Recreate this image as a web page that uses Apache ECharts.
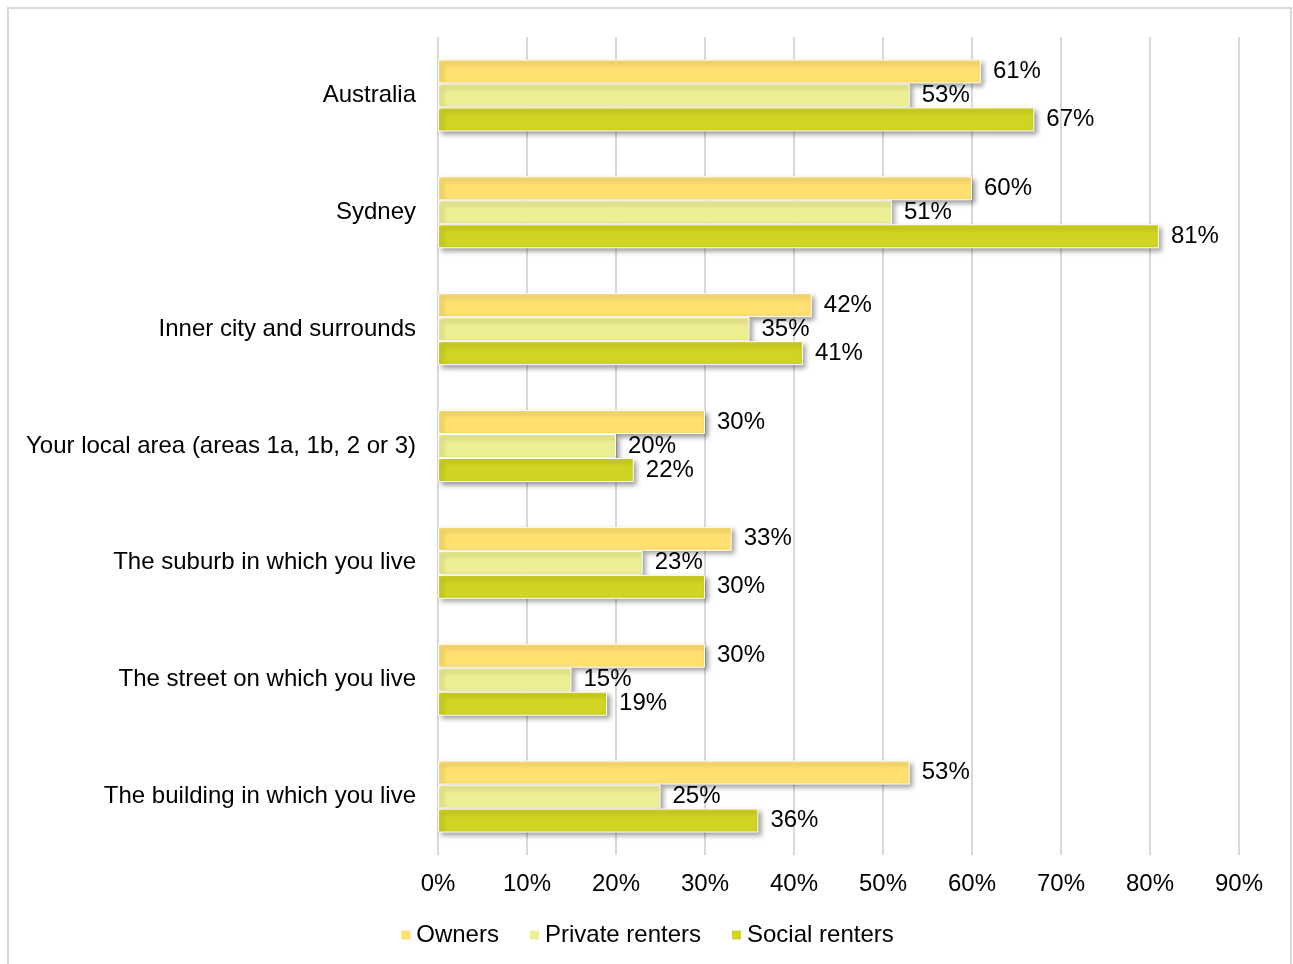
<!DOCTYPE html>
<html>
<head>
<meta charset="utf-8">
<script src="https://cdn.jsdelivr.net/npm/echarts@6/dist/echarts.min.js"></script>
<style>
  html, body { margin: 0; padding: 0; background: #fff; }
  #chart { width: 1293px; height: 964px; }
</style>
</head>
<body>
<div id="chart"></div>
<script>
// Areas compared, top to bottom
const categories = [
  'Australia',
  'Sydney',
  'Inner city and surrounds',
  'Your local area (areas 1a, 1b, 2 or 3)',
  'The suburb in which you live',
  'The street on which you live',
  'The building in which you live'
];
// Percentage of respondents in each tenure group
const owners = [61, 60, 42, 30, 33, 30, 53];
const privateRenters = [53, 51, 35, 20, 23, 15, 25];
const socialRenters = [67, 81, 41, 22, 30, 19, 36];
const seriesNames = ['Owners', 'Private renters', 'Social renters'];
const xTicks = [0, 10, 20, 30, 40, 50, 60, 70, 80, 90];

const FONT = '"Liberation Sans", Arial, sans-serif';
const colors = ['#FFE070', '#EEEE94', '#D0D422'];

function barSeries(name, data, color) {
  return {
    name: name,
    type: 'bar',
    data: data,
    barWidth: 24,
    barGap: '0%',
    barCategoryGap: '38%',
    itemStyle: {
      color: color,
      borderColor: '#ffffff',
      borderWidth: 1,
      shadowColor: 'rgba(0,0,0,0.4)',
      shadowBlur: 5,
      shadowOffsetX: 3,
      shadowOffsetY: 3
    },
    label: {
      show: true,
      position: 'right',
      distance: 12,
      formatter: '{c}%',
      color: '#000',
      fontFamily: FONT,
      fontSize: 24
    }
  };
}

const chart = echarts.init(document.getElementById('chart'), null, { renderer: 'canvas' });
chart.setOption({
  animation: false,
  backgroundColor: '#ffffff',
  graphic: [{
    type: 'rect',
    shape: { x: 8, y: 8, width: 1283, height: 970 },
    style: { fill: 'none', stroke: '#d9d9d9', lineWidth: 2 },
    silent: true
  }],
  grid: { left: 438, right: 54, top: 37, bottom: 109, containLabel: false },
  xAxis: {
    type: 'value',
    min: xTicks[0],
    max: xTicks[xTicks.length - 1],
    interval: 10,
    axisLine: { show: false },
    axisTick: { show: false },
    splitLine: { show: true, lineStyle: { color: '#d9d9d9', width: 2 } },
    axisLabel: {
      formatter: '{value}%',
      color: '#000',
      fontFamily: FONT,
      fontSize: 24,
      margin: 17
    }
  },
  yAxis: {
    type: 'category',
    data: categories,
    inverse: true,
    axisLine: { show: false },
    axisTick: { show: false },
    axisLabel: {
      color: '#000',
      fontFamily: FONT,
      fontSize: 24,
      margin: 22
    }
  },
  legend: {
    bottom: 12,
    left: 'center',
    itemWidth: 11,
    itemHeight: 11,
    itemGap: 29,
    icon: 'rect',
    textStyle: { color: '#000', fontFamily: FONT, fontSize: 24 },
    data: seriesNames
  },
  series: [
    barSeries(seriesNames[0], owners, colors[0]),
    barSeries(seriesNames[1], privateRenters, colors[1]),
    barSeries(seriesNames[2], socialRenters, colors[2])
  ]
});
</script>
</body>
</html>
